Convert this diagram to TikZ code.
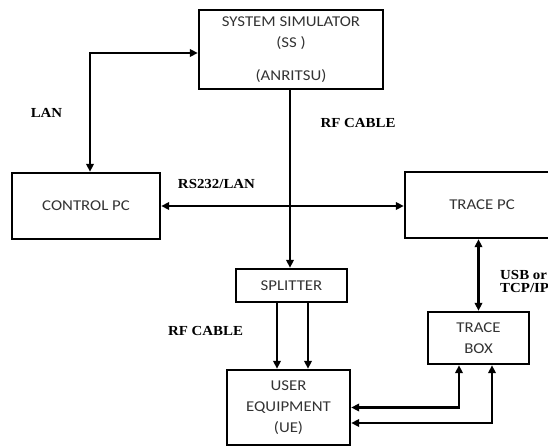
\documentclass[tikz,border=0pt]{standalone}
\usepackage{fontspec}
\setmainfont{Liberation Serif}
\newfontfamily\boxfont[FakeStretch=1.12]{Carlito}
\newfontfamily\labfont[FakeStretch=1.08]{Liberation Serif}
\usetikzlibrary{arrows.meta}
\definecolor{txt}{gray}{0.2}
\tikzset{
  blk/.style={draw, line width=2.4pt, inner sep=0pt, align=center, text=txt,
    font=\boxfont\fontsize{15}{21}\selectfont},
  lbl/.style={inner sep=0pt, align=left, font=\labfont\bfseries\fontsize{13.8}{13.8}\selectfont},
  conn/.style={line width=2.1pt, arrows={Triangle[length=8pt,width=7.5pt]-Triangle[length=8pt,width=7.5pt]}},
  conn1/.style={line width=2.1pt, -{Triangle[length=8pt,width=7.5pt]}}
}
\begin{document}
\begin{tikzpicture}[x=1pt,y=-1pt]
\useasboundingbox (0,0) rectangle (548,446);
\begin{scope}
\clip (0,0) rectangle (548,446);
% boxes
\node[blk, minimum width=184pt, minimum height=79pt] (ss) at (291,49.5)
  {\fontsize{15}{19}\selectfont SYSTEM SIMULATOR\\(SS )\\[12pt](ANRITSU)};
\node[blk, minimum width=148pt, minimum height=66pt] (ctrl) at (86,206) {CONTROL PC};
\node[blk, minimum width=154pt, minimum height=66pt] (tpc) at (482,205) {TRACE PC};
\node[blk, minimum width=111pt, minimum height=33pt] (spl) at (291.5,285.5) {SPLITTER};
\node[blk, minimum width=123pt, minimum height=75pt] (ue) at (288.5,407.5) {USER\\EQUIPMENT\\(UE)};
\node[blk, minimum width=101pt, minimum height=52pt] (tbox) at (478.5,338) {TRACE\\BOX};
% connectors
\draw[conn] ([xshift=4pt]ctrl.north) |- ([yshift=-3.5pt]ss.west);
\draw[conn1] ([xshift=-1pt]ss.south) -- ([xshift=-1pt]ss.south |- spl.north);
\draw[conn] (ctrl.east) -- (ctrl.east -| tpc.west);
\draw[conn1] ([xshift=-14.5pt]spl.south) -- ([xshift=-14.5pt]spl.south |- ue.north);
\draw[conn1] ([xshift=16.5pt]spl.south) -- ([xshift=16.5pt]spl.south |- ue.north);
\draw[conn] (tbox.north |- tpc.south) -- (tbox.north);
\draw[conn] ([xshift=-19.5pt]tbox.south) |- (ue.east);
\draw[conn] ([xshift=13.5pt]tbox.south) |- ([yshift=-15.5pt]ue.east);
% labels
\node[lbl] (llan) at (46.5,113) {LAN};
\node[lbl] (lrf1) at (358,123) {RF CABLE};
\node[lbl] (lrs) at (216.5,184) {RS232/LAN};
\node[lbl, anchor=west] (lusb) at (500,281.5) {USB or\\[-1pt]TCP/IP};
\node[lbl] (lrf2) at (205.5,331) {RF CABLE};
\end{scope}
\end{tikzpicture}
\end{document}
